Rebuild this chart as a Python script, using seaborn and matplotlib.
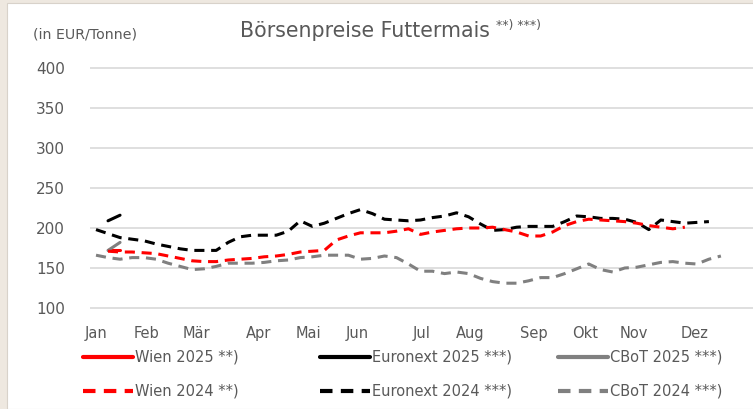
import pandas as pd
import matplotlib.pyplot as plt
import seaborn as sns
from matplotlib.lines import Line2D


# week index of each observation
weeks = list(range(1, 54))

# Euronext 2024 (weeks 1-52)
euronext_2024 = [198, 193, 188, 186, 184, 180, 177, 174, 172, 172, 172, 182, 189, 191, 191, 191,
                 196, 209, 202, 206, 212, 218, 223, 218, 211, 210, 209, 210, 213, 215, 219, 214,
                 205, 197, 198, 201, 202, 202, 202, 208, 215, 214, 212, 212, 211, 207, 198, 210,
                 208, 206, 207, 208]
# Wien 2024 (weeks 2-50)
wien_2024 = [171, 170, 170, 169, 168, 165, 162, 159, 158, 158, 160, 161, 162, 164, 165, 167,
             170, 171, 172, 185, 190, 194, 194, 194, 196, 199, 192, 195, 197, 199, 200, 200,
             201, 198, 195, 190, 190, 195, 203, 208, 211, 210, 209, 208, 206, 203, 201, 199, 201]
# CBoT 2024 (weeks 1-53)
cbot_2024 = [166, 163, 161, 163, 163, 161, 156, 152, 148, 149, 152, 156, 156, 156, 157, 159,
             160, 163, 164, 166, 166, 166, 161, 162, 165, 163, 155, 146, 146, 143, 145, 143,
             137, 133, 131, 131, 134, 138, 138, 143, 149, 155, 148, 145, 150, 151, 154, 157,
             158, 156, 155, 161, 165]
# 2025 (weeks 2-3)
wien_2025 = [172, 172]
euronext_2025 = [209, 216]
cbot_2025 = [172, 182]

months = ['Jan', 'Feb', 'Mär', 'Apr', 'Mai', 'Jun', 'Jul', 'Aug', 'Sep', 'Okt', 'Nov', 'Dez']
month_weeks = [1, 5.17, 9.33, 14.5, 18.67, 22.75, 28.08, 32.17, 37.42, 41.67, 45.75, 50.83]

series = [
    ('Wien 2025 **)', weeks[1:3], wien_2025, '#ff0000', '-'),
    ('Euronext 2025 ***)', weeks[1:3], euronext_2025, '#000000', '-'),
    ('CBoT 2025 ***)', weeks[1:3], cbot_2025, '#808080', '-'),
    ('CBoT 2024 ***)', weeks[0:53], cbot_2024, '#808080', (0, (3.3, 2.2))),
    ('Euronext 2024 ***)', weeks[0:52], euronext_2024, '#000000', (0, (3.3, 2.2))),
    ('Wien 2024 **)', weeks[1:50], wien_2024, '#ff0000', (0, (3.3, 2.2))),
]

sns.set_style('white')
plt.rcParams['font.family'] = ['DejaVu Sans']
txt = '#595959'

fig = plt.figure(figsize=(7.53, 4.09), dpi=100)
fig.patch.set_facecolor('#eee8e0')
# white chart area
fig.patches.append(plt.Rectangle((7 / 753, 0), 1, 1 - 3 / 409, transform=fig.transFigure,
                                 facecolor='white', edgecolor='#d8d2ca', lw=0.8, zorder=-5))

ax = fig.add_axes([90 / 753, 1 - 310.4 / 409, 663 / 753, 244.8 / 409])
ax.set_facecolor('none')

for name, x, y, c, ls in series:
    df = pd.DataFrame({'week': x, 'price': y})
    sns.lineplot(data=df, x='week', y='price', ax=ax, color=c, linestyle=ls, linewidth=2.2)

ax.set_xlim(0.5, 55.67)
ax.set_ylim(97, 403)
ax.set_yticks([100, 150, 200, 250, 300, 350, 400])
ax.set_xticks(month_weeks)
ax.set_xticklabels(months)
ax.yaxis.grid(True, color='#d9d9d9', linewidth=1.2)
ax.set_axisbelow(True)
for s in ax.spines.values():
    s.set_visible(False)
ax.tick_params(axis='y', labelsize=11, colors=txt, pad=18, length=0)
ax.tick_params(axis='x', labelsize=10.5, colors=txt, pad=11, length=0)
ax.set_xlabel('')
ax.set_ylabel('')

fig.text(33 / 753, 1 - 35 / 409, '(in EUR/Tonne)', fontsize=10.2, color=txt, va='center')
fig.text(240 / 753, 1 - 31 / 409, 'Börsenpreise Futtermais', fontsize=14.8, color=txt, va='center')
fig.text(496 / 753, 1 - 25 / 409, '**) ***)', fontsize=9, color=txt, va='center')

# legend, three columns of two rows
groups = [
    (83, ['Wien 2025 **)', 'Wien 2024 **)'], '#ff0000'),
    (320, ['Euronext 2025 ***)', 'Euronext 2024 ***)'], '#000000'),
    (558, ['CBoT 2025 ***)', 'CBoT 2024 ***)'], '#808080'),
]
for xpos, labels, c in groups:
    handles = [Line2D([], [], color=c, lw=3, linestyle='-'),
               Line2D([], [], color=c, lw=3, linestyle=(0, (3, 2)))]
    leg = fig.legend(handles, labels, loc='upper left',
                     bbox_to_anchor=(xpos / 753, 1 - 350 / 409), frameon=False,
                     fontsize=10.5, handlelength=3.4, handletextpad=0.15, labelspacing=1.3,
                     borderaxespad=0, borderpad=0)
    for t in leg.get_texts():
        t.set_color(txt)

fig.savefig('out.png', dpi=100)
